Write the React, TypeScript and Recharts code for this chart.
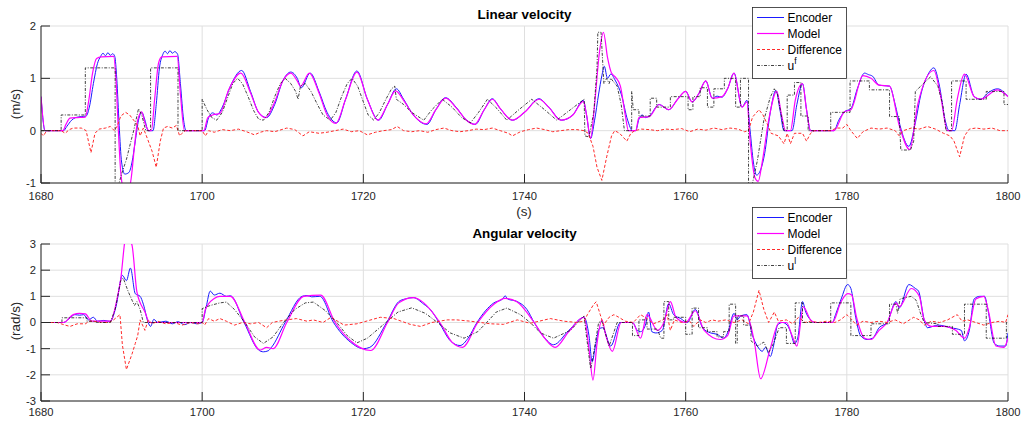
import React from 'react';
import { LineChart, Line, XAxis, YAxis, CartesianGrid } from 'recharts';

type P = [number, number];

const FONT = "'Liberation Sans', Arial, Helvetica, sans-serif";

const timeTicks = [1680, 1700, 1720, 1740, 1760, 1780, 1800];
const linTicks = [-1, 0, 1, 2];
const angTicks = [-3, -2, -1, 0, 1, 2, 3];

const linTitle = 'Linear velocity';
const angTitle = 'Angular velocity';
const linUnit = '(m/s)';
const angUnit = '(rad/s)';
const timeUnit = '(s)';
const legendNames = ['Encoder', 'Model', 'Difference'];

// ---------- Linear velocity ----------
const linEncoder: P[] = [
  [1680, 0.65], [1680.5, 0], [1682.8, 0], [1683.2, 0.08], [1683.8, 0.2], [1684.3, 0.25], [1685.0, 0.27], [1685.6, 0.28],
  [1686.0, 0.45], [1686.5, 0.9], [1687.0, 1.28], [1687.4, 1.42], [1687.7, 1.48], [1688.0, 1.43], [1688.3, 1.49], [1688.6, 1.44],
  [1688.9, 1.47], [1689.15, 1.42], [1689.4, 1.0], [1689.7, 0.1], [1690.0, -0.6], [1690.4, -0.83], [1690.9, -0.8], [1691.3, -0.6],
  [1691.7, -0.2], [1692.1, 0.2], [1692.5, 0.35], [1692.9, 0.2], [1693.3, 0], [1693.9, 0], [1694.3, 0.5], [1694.7, 1.2],
  [1695.1, 1.45], [1695.4, 1.52], [1695.7, 1.47], [1696.0, 1.53], [1696.3, 1.48], [1696.6, 1.51], [1696.95, 1.46], [1697.3, 0.9],
  [1697.7, 0.2], [1698.0, 0], [1700.3, 0], [1700.8, 0.25], [1701.3, 0.34], [1701.8, 0.3], [1702.5, 0.45], [1703.5, 0.85],
  [1704.9, 1.15], [1706.0, 0.75], [1707.0, 0.35], [1708.0, 0.25], [1709.0, 0.5], [1710.0, 0.95], [1711.0, 1.12], [1711.8, 1.0],
  [1712.3, 0.82], [1713.4, 1.1], [1714.5, 0.75], [1715.5, 0.35], [1716.7, 0.15], [1717.8, 0.6], [1719.2, 1.14], [1720.5, 0.6],
  [1721.9, 0.2], [1723.0, 0.5], [1724.1, 0.8], [1725.0, 0.6], [1726.2, 0.3], [1727.9, 0.12], [1729.0, 0.4], [1730.2, 0.63],
  [1731.5, 0.45], [1732.8, 0.2], [1733.9, 0.12], [1735.0, 0.4], [1736.0, 0.61], [1737.0, 0.42], [1738.5, 0.2], [1740.0, 0.35],
  [1741.8, 0.61], [1743.0, 0.45], [1744.6, 0.2], [1746.0, 0.3], [1747.3, 0.58], [1747.7, 0.3], [1748.2, -0.15], [1748.7, 0.2],
  [1749.2, 0.7], [1749.6, 1.05], [1749.9, 1.23], [1750.3, 1.0], [1750.7, 1.08], [1751.3, 0.95], [1752.0, 0.7], [1752.8, 0.2],
  [1753.4, 0], [1753.8, 0], [1754.2, 0.22], [1754.6, 0.3], [1755.0, 0.25], [1755.5, 0.28], [1756.7, 0.5], [1757.9, 0.4],
  [1759.0, 0.6], [1760.0, 0.75], [1760.8, 0.55], [1761.6, 0.7], [1762.5, 0.95], [1763.3, 0.62], [1763.9, 0.66], [1764.5, 0.64],
  [1765.2, 0.8], [1766.0, 1.1], [1767.0, 0.45], [1767.6, 0.58], [1768.0, 0], [1768.4, -0.6], [1768.8, -0.85], [1769.3, -0.75],
  [1769.8, -0.44], [1770.5, 0.35], [1771.2, 0.77], [1771.7, 0.4], [1772.2, 0], [1773.2, 0], [1773.8, 0.5], [1774.5, 0.9],
  [1775.0, 0.4], [1775.5, 0], [1778.4, 0], [1779.0, 0.2], [1779.7, 0.36], [1780.5, 0.42], [1781.3, 0.8], [1782.2, 1.1],
  [1782.7, 1.07], [1783.2, 1.04], [1784.0, 0.87], [1784.6, 0.86], [1785.3, 0.85], [1786.0, 0.5], [1786.6, 0.1], [1787.7, -0.3],
  [1788.5, 0.15], [1789.2, 0.7], [1790.0, 1.05], [1790.8, 1.2], [1791.5, 0.85], [1792.2, 0.2], [1792.7, 0], [1793.4, 0],
  [1794.0, 0.5], [1794.8, 1.08], [1795.8, 0.65], [1796.6, 0.6], [1797.5, 0.72], [1798.7, 0.8], [1800, 0.65],
];

const linModel: P[] = [
  [1680, 0.65], [1680.5, 0], [1682.7, 0], [1683.1, 0.12], [1683.6, 0.24], [1684.5, 0.25], [1685.5, 0.26], [1685.9, 0.55],
  [1686.4, 1.1], [1686.9, 1.38], [1687.5, 1.41], [1689.0, 1.42], [1689.3, 1.0], [1689.6, 0], [1689.9, -0.8], [1690.3, -1.15],
  [1690.8, -1.2], [1691.2, -0.9], [1691.6, -0.3], [1692.0, 0.2], [1692.5, 0.36], [1692.9, 0.15], [1693.4, 0], [1693.7, 0],
  [1694.1, 0.6], [1694.6, 1.3], [1695.0, 1.41], [1696.9, 1.42], [1697.3, 0.7], [1697.8, 0], [1700.2, 0], [1700.7, 0.25],
  [1701.3, 0.3], [1702.2, 0.33], [1703.3, 0.78], [1704.8, 1.1], [1706.0, 0.72], [1707.0, 0.35], [1707.9, 0.25], [1709.0, 0.55],
  [1710.0, 0.95], [1711.0, 1.1], [1711.8, 0.95], [1712.2, 0.85], [1713.3, 1.1], [1714.5, 0.72], [1715.5, 0.3], [1716.6, 0.14],
  [1717.8, 0.6], [1719.2, 1.12], [1720.5, 0.6], [1721.8, 0.2], [1723.0, 0.5], [1724.0, 0.76], [1725.0, 0.58], [1726.2, 0.3],
  [1727.8, 0.13], [1729.0, 0.4], [1730.2, 0.62], [1731.5, 0.44], [1732.8, 0.2], [1733.8, 0.12], [1735.0, 0.4], [1736.0, 0.6],
  [1737.0, 0.42], [1738.5, 0.2], [1740.0, 0.35], [1741.8, 0.6], [1743.0, 0.45], [1744.5, 0.2], [1746.0, 0.3], [1747.3, 0.56],
  [1747.7, 0.3], [1748.2, -0.15], [1748.7, 0.5], [1749.3, 1.5], [1749.8, 1.88], [1750.3, 1.4], [1750.8, 1.1], [1751.3, 1.02],
  [1751.9, 0.85], [1752.5, 0.3], [1752.9, 0], [1753.8, 0], [1754.2, 0.25], [1755.5, 0.27], [1756.7, 0.5], [1757.9, 0.4],
  [1759.0, 0.6], [1760.0, 0.75], [1760.8, 0.55], [1761.6, 0.7], [1762.5, 0.95], [1763.3, 0.62], [1764.5, 0.65], [1765.2, 0.8],
  [1766.0, 1.1], [1767.0, 0.45], [1767.6, 0.55], [1768.0, -0.2], [1768.6, -0.9], [1769.0, -0.97], [1769.5, -0.6], [1770.3, 0.2],
  [1771.3, 0.75], [1771.9, 0.3], [1772.4, 0], [1773.0, 0], [1773.6, 0.58], [1774.5, 0.9], [1775.0, 0.4], [1775.5, 0],
  [1778.4, 0], [1779.7, 0.36], [1780.5, 0.4], [1782.0, 1.05], [1783.0, 1.0], [1784.0, 0.87], [1785.3, 0.85], [1786.5, 0.1],
  [1787.8, -0.36], [1788.8, 0.5], [1790.8, 1.15], [1791.6, 0.7], [1792.5, 0], [1793.0, 0], [1793.7, 0.6], [1794.6, 1.08],
  [1795.8, 0.65], [1796.6, 0.6], [1798.7, 0.78], [1800, 0.65],
];

const linDiff: P[] = [
  [1680, -0.05], [1680.3, -0.1], [1680.7, 0], [1682.5, 0], [1683.0, -0.05], [1683.5, 0.02], [1684.0, 0.05], [1685.0, 0.05],
  [1685.6, 0], [1686.2, -0.42], [1686.7, -0.05], [1687.2, 0.03], [1688.0, 0.05], [1688.6, 0.08], [1689.1, 0], [1689.5, 0.1],
  [1689.9, 0.28], [1690.5, 0.35], [1691.0, 0.3], [1691.5, 0.2], [1692.0, 0.1], [1692.3, -0.1], [1692.7, 0.05], [1693.2, -0.15],
  [1693.8, -0.4], [1694.3, -0.7], [1694.8, -0.2], [1695.2, 0.05], [1695.7, 0.08], [1696.3, 0.05], [1696.8, 0.1], [1697.2, -0.1],
  [1697.5, -0.05], [1697.9, 0], [1700, 0], [1700.4, -0.1], [1700.8, 0], [1701.5, -0.03], [1702.5, 0.02], [1703.5, 0],
  [1704.5, 0.03], [1705.5, -0.02], [1706.5, -0.08], [1707.2, -0.03], [1708.0, 0], [1709, -0.02], [1710.5, 0.05], [1711.5, 0.02],
  [1712.5, -0.1], [1713.3, -0.02], [1714.5, -0.05], [1715.5, -0.03], [1716.5, 0], [1717.5, 0.03], [1718.5, -0.02], [1719.5, 0],
  [1720.5, -0.08], [1721.5, -0.03], [1722.5, 0], [1723.5, 0.02], [1724.2, 0.08], [1725, 0], [1726, -0.02], [1727, 0],
  [1728, -0.03], [1729, 0.02], [1730, 0.05], [1731, 0], [1732, -0.02], [1733, 0], [1734, 0.03], [1735, 0.02],
  [1736, 0.05], [1737, 0], [1738, -0.05], [1738.5, -0.1], [1739.5, -0.02], [1740.5, 0.02], [1741.5, 0.05], [1742.5, 0.02],
  [1743.5, -0.02], [1744.5, 0], [1745.5, 0.02], [1746.5, 0.02], [1747.4, 0], [1747.9, -0.05], [1748.5, -0.3], [1749.0, -0.7],
  [1749.6, -0.95], [1750.2, -0.5], [1750.8, -0.1], [1751.2, 0], [1751.8, -0.05], [1752.7, -0.2], [1753.2, -0.05], [1753.7, 0],
  [1754.5, 0.03], [1755.5, 0.02], [1756.5, 0], [1757.5, 0.03], [1758.5, 0.02], [1759.5, 0.04], [1760.5, -0.02], [1761.5, 0.03],
  [1762.5, 0.01], [1763.5, 0.05], [1764.5, 0.02], [1765.5, 0.05], [1766.5, 0.03], [1767.3, -0.02], [1767.8, 0], [1768.3, 0.26],
  [1769.1, 0.4], [1769.6, 0.3], [1770.2, 0.1], [1770.6, -0.05], [1771.5, -0.1], [1772.2, -0.25], [1772.6, -0.05], [1773.0, -0.25],
  [1773.5, -0.05], [1774.5, -0.05], [1775.0, -0.2], [1775.5, -0.05], [1776, 0], [1777, 0], [1778, 0], [1778.7, 0.05],
  [1779.5, 0.05], [1780, 0.12], [1780.5, 0], [1781.3, -0.15], [1782, -0.02], [1783, 0.05], [1784, 0.03], [1785, 0.05],
  [1786, 0], [1786.5, -0.1], [1787, 0], [1788, 0.05], [1789, 0.03], [1790, 0.08], [1791, 0.03], [1792, -0.05],
  [1792.8, -0.1], [1793.3, -0.2], [1794.0, -0.5], [1794.6, -0.1], [1795.2, 0.03], [1796, 0.05], [1797, 0.03], [1798, 0.05],
  [1799, 0], [1800, 0],
];

const linU: P[] = [
  [1680, 0], [1682.5, 0], [1682.5, 0.3], [1685.5, 0.3], [1685.5, 1.2], [1689.2, 1.2], [1689.2, -1.3], [1689.6, -1.05],
  [1690.0, -0.83], [1690.6, -0.55], [1691.0, -0.3], [1691.5, 0], [1692.1, 0.42], [1692.5, 0.3], [1693.0, 0], [1693.6, 0],
  [1693.6, 1.2], [1697.0, 1.2], [1697.0, 0], [1700.0, 0], [1700.0, 0.6], [1700.6, 0.4], [1701.2, 0.25], [1701.8, 0.2],
  [1702.5, 0.35], [1703.2, 0.65], [1703.8, 0.9], [1704.4, 1.0], [1705.0, 0.9], [1705.7, 0.65], [1706.4, 0.38], [1707.0, 0.22],
  [1707.6, 0.2], [1708.3, 0.35], [1709.0, 0.65], [1709.7, 0.9], [1710.3, 1.0], [1711.0, 0.9], [1711.6, 0.75], [1711.9, 0.6],
  [1712.2, 0.85], [1712.8, 0.9], [1713.5, 0.75], [1714.3, 0.5], [1715.0, 0.3], [1715.9, 0.2], [1716.6, 0.35], [1717.3, 0.65],
  [1718.0, 0.9], [1718.6, 1.0], [1719.3, 0.85], [1720.0, 0.55], [1720.6, 0.3], [1721.3, 0.2], [1722.0, 0.35], [1722.8, 0.6],
  [1723.5, 0.8], [1723.9, 0.85], [1724.1, 0.6], [1725.0, 0.5], [1726.0, 0.35], [1727.5, 0.2], [1728.5, 0.4], [1729.8, 0.6],
  [1731.0, 0.45], [1732.2, 0.25], [1733.3, 0.15], [1734.3, 0.35], [1735.4, 0.6], [1736.6, 0.42], [1737.8, 0.2], [1739.3, 0.4],
  [1740.9, 0.6], [1742.5, 0.4], [1744.0, 0.2], [1745.7, 0.4], [1747.4, 0.6], [1747.5, -0.1], [1748.0, -0.12], [1748.6, 0.35],
  [1749.0, 1.2], [1749.1, 1.88], [1749.5, 1.88], [1749.85, 0.9], [1750.2, 1.0], [1750.5, 0.9], [1750.7, 1.0], [1751.5, 0.85],
  [1752.0, 0.5], [1752.4, 0], [1753.3, 0], [1753.3, 0.75], [1753.5, 0.4], [1754.2, 0.4], [1754.2, 0.28], [1755.6, 0.28],
  [1755.6, 0.62], [1756.4, 0.62], [1756.4, 0.45], [1758.1, 0.45], [1758.1, 0.65], [1760.3, 0.65], [1760.3, 0.4], [1760.9, 0.4],
  [1760.9, 0.65], [1761.8, 0.65], [1761.8, 0.82], [1762.7, 0.82], [1762.7, 0.45], [1763.5, 0.45], [1763.5, 0.8], [1764.8, 0.8],
  [1764.8, 1.0], [1766.2, 1.0], [1766.2, 0.45], [1766.8, 0.45], [1766.8, 1.0], [1767.8, 1.0], [1767.8, -1.3], [1768.3, -1.0],
  [1768.9, -0.57], [1769.7, 0.2], [1770.5, 0.64], [1771.0, 0.8], [1771.4, 0.7], [1772.2, 0], [1772.6, 0], [1772.6, 0.68],
  [1773.5, 0.68], [1773.5, 0.92], [1774.3, 0.92], [1774.3, 0.28], [1775.2, 0.28], [1775.2, 0], [1778.0, 0], [1778.0, 0.35],
  [1780.4, 0.35], [1780.4, 0.95], [1782.8, 0.95], [1782.8, 0.78], [1785.3, 0.78], [1785.3, 0.27], [1786.5, 0.27], [1786.7, -0.37],
  [1787.9, -0.37], [1788.3, -0.2], [1788.5, 0.75], [1789.5, 0.9], [1790.4, 1.03], [1791.3, 0.85], [1791.9, 0.5], [1792.3, 0],
  [1793.0, 0], [1793.0, 0.95], [1794.8, 0.95], [1794.8, 0.6], [1797.3, 0.6], [1797.3, 0.75], [1799.5, 0.75], [1799.5, 0.5],
  [1800, 0.5],
];

// ---------- Angular velocity ----------
const angEncoder: P[] = [
  [1680, 0], [1682.8, 0], [1683.5, 0.15], [1684.2, 0.3], [1684.8, 0.28], [1685.3, 0.3], [1685.9, 0.1], [1686.5, 0.2],
  [1687.0, 0.05], [1687.8, 0.08], [1688.6, 0.04], [1689.3, 0.6], [1690.1, 1.8], [1690.6, 1.6], [1691.1, 2.08], [1691.7, 1.1],
  [1692.3, 1.0], [1692.7, 0.7], [1693.3, 0], [1693.6, -0.15], [1694.0, 0.12], [1694.5, 0], [1695.5, 0.05], [1696.3, -0.05],
  [1697.0, 0.03], [1697.8, -0.08], [1698.6, 0], [1699.3, -0.05], [1700, 0], [1700.5, 0.6], [1701.0, 1.2], [1701.5, 1.05],
  [1702.2, 1.12], [1703.0, 1.0], [1703.5, 1.02], [1705.2, 0], [1707.0, -1.05], [1707.6, -1.12], [1708.2, -1.08], [1708.6, -0.95],
  [1710.3, 0], [1712.4, 1.0], [1713.0, 1.03], [1713.6, 0.98], [1714.6, 1.0], [1716.3, 0], [1718.4, -0.75], [1720.0, -1.0],
  [1720.8, -0.95], [1722.9, 0], [1724.4, 0.8], [1725.2, 0.9], [1726.2, 0.95], [1727.5, 0.7], [1728.3, 0.5], [1729.4, 0],
  [1730.8, -0.7], [1732.0, -0.88], [1733.0, -0.6], [1734.1, 0], [1736.2, 0.75], [1737.3, 0.9], [1737.6, 1.02], [1737.9, 0.9],
  [1739.1, 0.8], [1740.3, 0.5], [1741.2, 0], [1742.4, -0.55], [1743.6, -0.85], [1745.5, -0.3], [1747.4, 0.2], [1748.0, -0.5],
  [1748.4, -1.5], [1748.8, -0.9], [1749.3, -0.23], [1749.7, -0.2], [1750.7, -0.9], [1751.9, 0], [1753.4, 0], [1754.0, -0.3],
  [1754.4, -0.35], [1755.0, -0.1], [1755.4, 0.4], [1755.8, -0.35], [1756.3, -0.4], [1757.1, -0.3], [1757.9, 0.72], [1758.5, 0.3],
  [1759.4, 0.15], [1760.2, 0], [1761.2, 0.5], [1762.1, -0.2], [1763.1, -0.4], [1763.9, -0.45], [1764.7, -0.6], [1765.2, -0.4],
  [1766.0, 0.35], [1766.4, 0.1], [1766.8, 0.25], [1767.6, 0.3], [1768.3, -0.5], [1768.9, -0.9], [1769.5, -1.1], [1769.9, -0.95],
  [1770.5, -1.3], [1770.9, -0.9], [1771.4, -0.1], [1772.0, 0], [1772.6, -0.1], [1773.0, -0.35], [1773.5, -0.8], [1773.9, -0.6],
  [1774.5, 0.8], [1774.9, 0.4], [1775.5, 0.1], [1776.0, 0], [1778.2, 0], [1778.6, 0.3], [1779.3, 0.9], [1780.1, 1.45],
  [1780.5, 1.3], [1781.1, 0.2], [1781.7, -0.5], [1782.5, -0.65], [1783.2, -0.6], [1784.0, -0.2], [1785.0, 0], [1786.1, 0.8],
  [1786.5, 0.55], [1787.7, 1.45], [1788.5, 1.3], [1788.9, 1.2], [1789.6, 0.1], [1790.0, -0.2], [1791.3, -0.1], [1792.9, -0.2],
  [1794.2, -0.3], [1794.6, -0.7], [1795.2, -0.3], [1795.8, 0.9], [1796.5, 1.0], [1797.1, 1.0], [1797.5, 0.5], [1798.3, -0.8],
  [1799.0, -0.9], [1799.7, -0.9], [1800, -0.4],
];

const angModel: P[] = [
  [1680, 0], [1682.8, 0], [1684.0, 0.3], [1684.8, 0.35], [1685.5, 0.33], [1686.3, 0.05], [1688.6, 0.05], [1689.5, 1.0],
  [1689.9, 1.67], [1690.4, 3.1], [1690.8, 3.6], [1691.1, 3.1], [1691.3, 2.95], [1691.9, 1.17], [1692.9, 0.4], [1693.5, 0],
  [1700.0, 0], [1700.4, 0.5], [1701.5, 0.92], [1702.2, 1.0], [1703.5, 1.0], [1705.3, 0], [1707.2, -1.05], [1708.0, -0.95],
  [1708.8, -1.0], [1710.5, 0], [1712.6, 1.0], [1714.7, 1.05], [1716.5, 0], [1718.4, -0.7], [1720.9, -1.07], [1723.0, 0],
  [1724.4, 0.75], [1726.2, 0.95], [1727.5, 0.75], [1729.5, 0], [1731.0, -0.75], [1732.3, -0.95], [1734.2, 0], [1736.2, 0.7],
  [1737.6, 0.92], [1739.0, 0.8], [1741.2, 0], [1742.5, -0.6], [1743.8, -0.95], [1745.5, -0.35], [1747.4, 0.2], [1748.0, -1.0],
  [1748.5, -2.2], [1749.0, -0.8], [1749.6, 0.1], [1750.1, -0.5], [1750.9, -1.1], [1752.0, 0], [1753.4, 0], [1754.4, -0.6],
  [1755.2, 0.3], [1756.5, -0.3], [1757.3, 0], [1758.1, 0.8], [1758.8, 0.2], [1760.0, 0], [1761.2, 0.45], [1762.3, -0.3],
  [1764.3, -0.65], [1765.2, -0.5], [1766.0, 0.25], [1767.6, 0.25], [1768.5, -0.7], [1769.3, -2.15], [1770.5, -1.0], [1771.6, 0],
  [1772.5, 0], [1773.2, -0.5], [1773.8, -0.9], [1774.6, 0.6], [1775.5, 0.1], [1776, 0], [1778.2, 0], [1779.3, 0.8],
  [1780.1, 1.1], [1780.6, 1.05], [1781.2, 0.2], [1782.2, -0.6], [1783.0, -0.65], [1784.0, -0.3], [1785.0, 0], [1786.1, 0.75],
  [1786.5, 0.6], [1788.0, 1.3], [1789.0, 1.0], [1789.6, 0.1], [1790.5, -0.15], [1792, -0.15], [1793.5, -0.3], [1794.6, -0.6],
  [1795.2, -0.2], [1796.0, 0.9], [1797.0, 1.0], [1797.6, 0.4], [1798.5, -0.9], [1799.5, -0.95], [1800, -0.6],
];

const angDiff: P[] = [
  [1680, 0], [1682, 0], [1683, -0.1], [1683.6, -0.15], [1684.5, -0.05], [1685.5, -0.05], [1686.0, 0.05], [1686.5, 0.05],
  [1687.5, 0], [1688.5, 0], [1689.0, 0.1], [1689.8, 0.3], [1690.1, -0.86], [1690.6, -1.8], [1691.3, -1.2], [1691.7, -0.8],
  [1692.0, -0.5], [1692.3, 0.1], [1692.9, -0.3], [1693.3, 0.1], [1693.8, -0.05], [1694.5, 0.05], [1695.5, -0.05], [1696.5, 0],
  [1697.5, -0.1], [1698.5, 0], [1699.5, -0.05], [1700.0, 0], [1700.3, -0.1], [1700.8, 0.15], [1701.5, 0.05], [1702.2, 0.15],
  [1703.0, 0.05], [1704.0, -0.1], [1705.0, 0], [1706.0, -0.05], [1707.0, 0], [1708.0, -0.2], [1708.7, 0], [1709.5, 0.05],
  [1710.5, 0.1], [1711.7, 0.15], [1713.0, 0.05], [1713.8, 0.1], [1715.0, 0], [1716.0, 0.2], [1717.6, -0.1], [1719.2, -0.05],
  [1722.1, 0.2], [1723.8, 0.15], [1725.8, -0.07], [1727.1, -0.15], [1728.5, 0], [1730.4, 0.1], [1731.6, 0.1], [1733.3, 0.05],
  [1735.8, -0.05], [1737.4, -0.07], [1739.1, 0.1], [1740.7, -0.03], [1743.2, 0.15], [1744.9, 0.05], [1746.5, 0], [1747.4, 0.05],
  [1747.8, 0.3], [1748.6, 0.7], [1748.9, 0.79], [1749.4, 0.3], [1749.8, -0.1], [1750.5, 0.2], [1751.1, 0.3], [1751.7, 0.2],
  [1752.5, 0.05], [1753.5, 0], [1754.4, 0.3], [1755.2, 0.15], [1756.0, -0.05], [1757.2, 0.1], [1757.7, 0.3], [1758.1, -0.3],
  [1758.6, 0.1], [1759.5, 0], [1760.5, 0.05], [1761.0, -0.15], [1761.8, 0.1], [1762.5, 0], [1763.3, 0.1], [1764.0, 0.05],
  [1765.0, 0.1], [1766.0, 0], [1767.0, 0.1], [1767.8, -0.05], [1768.4, 0.4], [1769.1, 1.23], [1769.7, 0.5], [1770.3, 0],
  [1771.0, 0.4], [1771.5, 0.05], [1772.5, 0.1], [1773.3, -0.05], [1774.0, 0.2], [1774.8, 0], [1775.5, 0.05], [1776.5, 0],
  [1777.5, 0.05], [1778.5, 0], [1779.2, 0.1], [1780.0, 0.3], [1780.5, 0.15], [1781.2, -0.1], [1782.0, 0.05], [1783.0, 0],
  [1784.0, 0.05], [1785.0, 0], [1786.0, 0.1], [1787.0, -0.05], [1788.3, 0.2], [1789.0, 0.1], [1789.6, -0.1], [1790.5, 0.05],
  [1791.5, 0], [1792.5, 0.1], [1793.7, 0.3], [1794.3, 0.05], [1795.0, 0.1], [1796.0, 0], [1797.0, -0.1], [1798.0, 0],
  [1799.0, 0.05], [1799.7, 0], [1800, 0.3],
];

const angU: P[] = [
  [1680, 0], [1682.6, 0], [1682.6, 0.18], [1685.7, 0.18], [1685.7, 0.05], [1686.5, 0.05], [1687.0, 0], [1688.6, 0],
  [1689.2, 0.5], [1689.9, 1.6], [1690.2, 1.7], [1690.8, 1.2], [1691.3, 0.85], [1691.6, 0.65], [1691.9, 0.8], [1692.3, 0.5],
  [1692.7, 0], [1700.0, 0], [1700.0, 0.53], [1701.0, 0.65], [1702.2, 0.75], [1703.0, 0.78], [1704.0, 0.5], [1705.3, 0],
  [1706.5, -0.55], [1707.6, -0.8], [1708.8, -0.55], [1710.1, 0], [1711.5, 0.5], [1712.8, 0.75], [1713.8, 0.78], [1715.3, 0.45],
  [1716.7, 0], [1718.0, -0.5], [1719.2, -0.78], [1720.5, -0.6], [1722.8, 0], [1724.3, 0.4], [1726.0, 0.56], [1727.7, 0.35],
  [1729.2, 0], [1730.8, -0.4], [1732.5, -0.6], [1734.2, -0.35], [1735.3, 0], [1736.5, 0.4], [1737.8, 0.55], [1739.5, 0.3],
  [1740.7, 0], [1742.0, -0.4], [1743.6, -0.6], [1745.7, -0.3], [1747.4, 0.25], [1747.6, -0.3], [1748.2, -1.76], [1748.4, -1.5],
  [1749.2, 0], [1749.6, 0.05], [1750.5, -0.9], [1751.5, 0], [1753.4, 0], [1753.4, -0.5], [1754.2, -0.5], [1754.2, 0.1],
  [1755.2, 0.1], [1755.2, -0.25], [1756.5, -0.25], [1756.9, -0.6], [1757.3, -0.6], [1757.3, 0.8], [1757.9, 0.8], [1757.9, 0.1],
  [1758.5, 0.1], [1758.5, 0.2], [1760.0, 0.2], [1760.0, -0.45], [1760.8, -0.45], [1760.8, 0.55], [1761.6, 0.55], [1761.6, -0.2],
  [1762.7, -0.2], [1762.7, -0.35], [1763.9, -0.35], [1763.9, -0.55], [1764.7, -0.55], [1764.7, -0.35], [1765.4, -0.35], [1765.4, 0.7],
  [1766.2, 0.7], [1766.2, -0.8], [1766.4, -0.8], [1766.4, 0.25], [1767.2, 0.25], [1767.2, -0.1], [1768.1, -0.1], [1768.1, -0.7],
  [1768.9, -0.9], [1769.7, -0.75], [1770.3, -1.15], [1770.9, -0.8], [1771.6, -0.2], [1772.5, -0.2], [1772.5, -0.8], [1773.6, -0.8],
  [1773.6, 0.75], [1774.5, 0.75], [1774.5, 0], [1778.0, 0], [1778.0, 0.75], [1780.5, 0.75], [1780.5, -0.5], [1783.0, -0.5],
  [1783.0, -0.05], [1785.3, -0.05], [1785.3, 0.7], [1786.1, 0.7], [1786.3, 0.35], [1786.6, 0.9], [1787.2, 0.95], [1788.0, 1.0],
  [1788.6, 0.85], [1789.2, 0.3], [1789.6, 0], [1791.3, -0.05], [1791.3, -0.15], [1793.1, -0.15], [1793.1, -0.45], [1794.6, -0.45],
  [1794.6, 0.7], [1797.3, 0.7], [1797.3, -0.6], [1799.8, -0.6], [1799.8, 0], [1800, 0],
];

const pts = (a: P[]) => a.map(([t, v]) => ({ t, v }));

const C_ENC = '#1a1aff';
const C_MOD = '#ff00ff';
const C_DIF = '#ff2a2a';
const C_U = '#111111';
const AXIS = '#262626';
const GRID = '#dfdfdf';
const DASH_DIF = '3 2';
const DASH_U = '3 1.5 1 1.5';

interface PanelProps {
  top: number;
  height: number;
  marginTop: number;
  xh: number;
  xTickMargin: number;
  domain: [number, number];
  ticks: number[];
  enc: P[];
  mod: P[];
  dif: P[];
  u: P[];
}

function Panel({ top, height, marginTop, xh, xTickMargin, domain, ticks, enc, mod, dif, u }: PanelProps) {
  const tickStyle = { fontSize: 11.2, fill: AXIS, fontFamily: FONT };
  return (
    <div style={{ position: 'absolute', left: 0, top }}>
      <LineChart width={1023} height={height} margin={{ top: marginTop, right: 15, bottom: 0, left: 0 }}>
        <CartesianGrid stroke={GRID} strokeWidth={1} />
        <XAxis
          type="number"
          dataKey="t"
          domain={[1680, 1800]}
          ticks={timeTicks}
          interval={0}
          allowDataOverflow
          height={xh}
          tickSize={-9}
          tickMargin={xTickMargin}
          stroke={AXIS}
          tick={tickStyle}
        />
        <YAxis
          type="number"
          domain={domain}
          ticks={ticks}
          interval={0}
          allowDataOverflow
          width={41}
          tickSize={-9}
          tickMargin={14}
          stroke={AXIS}
          tick={tickStyle}
        />
        <Line data={pts(enc)} dataKey="v" type="monotone" stroke={C_ENC} strokeWidth={1} dot={false} isAnimationActive={false} />
        <Line data={pts(mod)} dataKey="v" type="monotone" stroke={C_MOD} strokeWidth={1.2} dot={false} isAnimationActive={false} />
        <Line data={pts(dif)} dataKey="v" type="linear" stroke={C_DIF} strokeWidth={1} strokeDasharray={DASH_DIF} dot={false} isAnimationActive={false} />
        <Line data={pts(u)} dataKey="v" type="linear" stroke={C_U} strokeWidth={0.8} strokeDasharray={DASH_U} dot={false} isAnimationActive={false} />
      </LineChart>
    </div>
  );
}

function LegendBox({ top, sup }: { top: number; sup: string }) {
  const rows = [
    { name: legendNames[0], color: C_ENC, dash: undefined as string | undefined, w: 1 },
    { name: legendNames[1], color: C_MOD, dash: undefined, w: 1.2 },
    { name: legendNames[2], color: C_DIF, dash: DASH_DIF, w: 1 },
    { name: 'u', color: C_U, dash: DASH_U, w: 0.8 },
  ];
  return (
    <g>
      <rect x={752.5} y={top + 0.5} width={94} height={71} fill="#fff" stroke={AXIS} strokeWidth={0.8} />
      {rows.map((r, i) => {
        const cy = top + 10.5 + i * 16;
        return (
          <g key={i}>
            <line x1={757} x2={784} y1={cy} y2={cy} stroke={r.color} strokeWidth={r.w} strokeDasharray={r.dash} />
            <text x={787.5} y={cy + 4.3} fontSize={12} fontFamily={FONT} fill="#000">
              {r.name}
              {i === 3 ? (
                <tspan fontSize={8.5} dy={-5.5}>{sup}</tspan>
              ) : null}
            </text>
          </g>
        );
      })}
    </g>
  );
}

export default function App() {
  return (
    <div style={{ position: 'absolute', left: 0, top: 0, width: 1023, height: 422, background: '#fff', overflow: 'hidden' }}>
      <Panel top={0} height={205} marginTop={26} xh={22} xTickMargin={18} domain={[-1, 2]} ticks={linTicks}
        enc={linEncoder} mod={linModel} dif={linDiff} u={linU} />
      <Panel top={205} height={217} marginTop={39} xh={21} xTickMargin={16} domain={[-3, 3]} ticks={angTicks}
        enc={angEncoder} mod={angModel} dif={angDiff} u={angU} />
      <svg width={1023} height={422} style={{ position: 'absolute', left: 0, top: 0, pointerEvents: 'none' }}>
        <text x={524.5} y={19} textAnchor="middle" fontSize={13.4} fontWeight="bold" fontFamily={FONT} fill="#000">{linTitle}</text>
        <text x={524} y={215.5} textAnchor="middle" fontSize={13.4} fontFamily={FONT} fill={AXIS}>{timeUnit}</text>
        <text x={524.5} y={238} textAnchor="middle" fontSize={13.4} fontWeight="bold" fontFamily={FONT} fill="#000">{angTitle}</text>
        <text x={20} y={104} textAnchor="middle" fontSize={13.4} fontFamily={FONT} fill={AXIS} transform="rotate(-90 20 104)">{linUnit}</text>
        <text x={20} y={321} textAnchor="middle" fontSize={13.4} fontFamily={FONT} fill={AXIS} transform="rotate(-90 20 321)">{angUnit}</text>
        <LegendBox top={7} sup="f" />
        <LegendBox top={207} sup="l" />
      </svg>
    </div>
  );
}
